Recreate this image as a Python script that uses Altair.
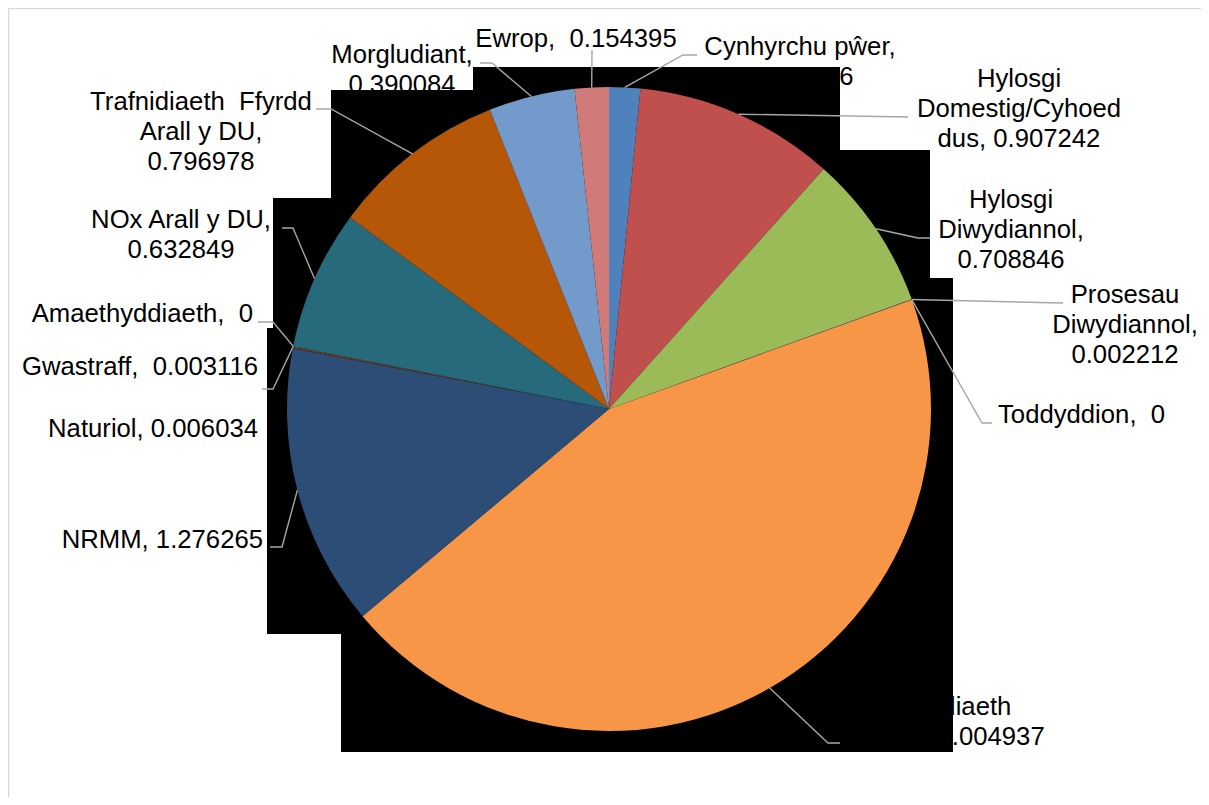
import altair as alt
import numpy as np
import pandas as pd

# ---------------- data ----------------
categories = [
    "Cynhyrchu pŵer", "Hylosgi Domestig/Cyhoeddus", "Hylosgi Diwydiannol",
    "Prosesau Diwydiannol", "Toddyddion", "Trafnidiaeth Ffyrdd", "NRMM",
    "Naturiol", "Gwastraff", "Amaethyddiaeth", "NOx Arall y DU",
    "Trafnidiaeth Ffyrdd Arall y DU", "Morgludiant", "Ewrop",
]
values = [0.140736, 0.907242, 0.708846, 0.002212, 0.0, 4.004937, 1.276265,
          0.006034, 0.003116, 0.0, 0.632849, 0.796978, 0.390084, 0.154395]
SP2 = "\u00a0 "
label_texts = [
    "Cynhyrchu pŵer,\n0.140736",
    "Hylosgi\nDomestig/Cyhoed\ndus, 0.907242",
    "Hylosgi\nDiwydiannol,\n0.708846",
    "Prosesau\nDiwydiannol,\n0.002212",
    "Toddyddion," + SP2 + "0",
    "Trafnidiaeth\nFfyrdd," + SP2 + "4.004937",
    "NRMM, 1.276265",
    "Naturiol, 0.006034",
    "Gwastraff," + SP2 + "0.003116",
    "Amaethyddiaeth," + SP2 + "0",
    "NOx Arall y DU,\n0.632849",
    "Trafnidiaeth" + SP2 + "Ffyrdd\nArall y DU,\n0.796978",
    "Morgludiant,\n0.390084",
    "Ewrop," + SP2 + "0.154395",
]
colors = ["#4F81BD", "#C0504D", "#9BBB59", "#8064A2", "#4BACC6", "#F79646",
          "#2C4D75", "#772C2A", "#5F7530", "#4D3B62", "#276A7C", "#B65708",
          "#729ACA", "#D07B79"]

# ---------------- layout (page pixels) ----------------
W, H, OFF = 1193, 789, 8
CX, CY, R = 609, 409, 322
label_x = [800, 1019, 1011, 1125, 998, 944, 263, 258, 258, 253, 181, 201, 402, 576]
label_y = [55, 87, 208, 303, 423, 715, 548, 437, 375, 322, 228, 110, 63, 47]
label_align = ["center", "center", "center", "center", "left", "center",
               "right", "right", "right", "right", "center", "center",
               "center", "center"]
leader_elbows = [
    [(683, 55), (697, 55)],
    [(908, 117)],
    [(918, 238), (930, 238)],
    [(1063, 303)],
    [(982, 423), (992, 423)],
    [(828, 743), (840, 743)],
    [(282, 547), (270, 547)],
    [],
    [(273, 389), (262, 389)],
    [(273, 322), (258, 322)],
    [(293, 228), (282, 228)],
    [(331, 109), (316, 109)],
    [(492, 63), (480, 63)],
    [(592, 50)],
]
# black fill regions seen behind the pie (x1, x2, y1, y2)
mask_x1 = [473, 331, 331, 273, 273, 267, 341]
mask_x2 = [840, 840, 930, 930, 953, 953, 953]
mask_y1 = [67, 90, 150, 198, 278, 328, 634]
mask_y2 = [90, 150, 198, 278, 328, 634, 752]

# ---------------- tables ----------------
pie_df = pd.DataFrame({"cat": categories, "value": values,
                       "idx": list(range(len(categories)))})

lab_df = pd.DataFrame({"txt": label_texts, "lx": label_x, "ly": label_y,
                       "al": label_align})

vals = np.array(values)
total = vals.sum()
mid = (np.cumsum(vals) - vals / 2) / total * 2 * np.pi
rows = []
for i, pts in enumerate(leader_elbows):
    if not pts:
        continue
    sx = CX + R * np.sin(mid[i])
    sy = CY - R * np.cos(mid[i])
    path = [(sx, sy)] + pts
    for k, (px, py) in enumerate(path):
        rows.append({"id": i, "ord": k, "px": px, "py": py})
lead_df = pd.DataFrame(rows)

mask_df = pd.DataFrame({"x1": mask_x1, "x2": mask_x2, "y1": mask_y1, "y2": mask_y2})

xs = alt.Scale(domain=[OFF, OFF + W], range=[0, W])
ys = alt.Scale(domain=[OFF, OFF + H], range=[0, H])

FONT = "Liberation Sans"
FS = 25.7
LH = 30

border = alt.Chart(pd.DataFrame({"a": [0]})).mark_rect(
    fillOpacity=0, stroke="#D9D9D9", strokeWidth=1.5
).encode(x=alt.value(0.5), y=alt.value(0.5), x2=alt.value(3000), y2=alt.value(3000))

text_layers = []
for al in ["center", "left", "right"]:
    text_layers.append(
        alt.Chart(lab_df).transform_filter(alt.datum.al == al).mark_text(
            align=al, baseline="alphabetic", lineBreak="\n", font=FONT,
            fontSize=FS, lineHeight=LH, color="#000000"
        ).encode(
            x=alt.X("lx:Q", scale=xs, axis=None),
            y=alt.Y("ly:Q", scale=ys, axis=None),
            text="txt:N",
        )
    )

mask = alt.Chart(mask_df).mark_rect(color="#000000").encode(
    x=alt.X("x1:Q", scale=xs, axis=None), x2="x2:Q",
    y=alt.Y("y1:Q", scale=ys, axis=None), y2="y2:Q",
)

pie = alt.Chart(pie_df).mark_arc(outerRadius=R).encode(
    theta=alt.Theta("value:Q", stack=True),
    color=alt.Color("cat:N", scale=alt.Scale(domain=categories, range=colors), legend=None),
    order=alt.Order("idx:Q"),
    x=alt.value(CX - OFF),
    y=alt.value(CY - OFF),
)

leaders = alt.Chart(lead_df).mark_line(color="#A6A6A6", strokeWidth=1.4).encode(
    x=alt.X("px:Q", scale=xs, axis=None),
    y=alt.Y("py:Q", scale=ys, axis=None),
    detail="id:N",
    order="ord:Q",
)

chart = alt.layer(border, *text_layers, mask, pie, leaders).properties(
    width=W, height=H, padding=0, autosize="none", background="white"
).configure_view(strokeWidth=0)

chart.save("out.html", embed_options={"renderer": "svg", "actions": False})
